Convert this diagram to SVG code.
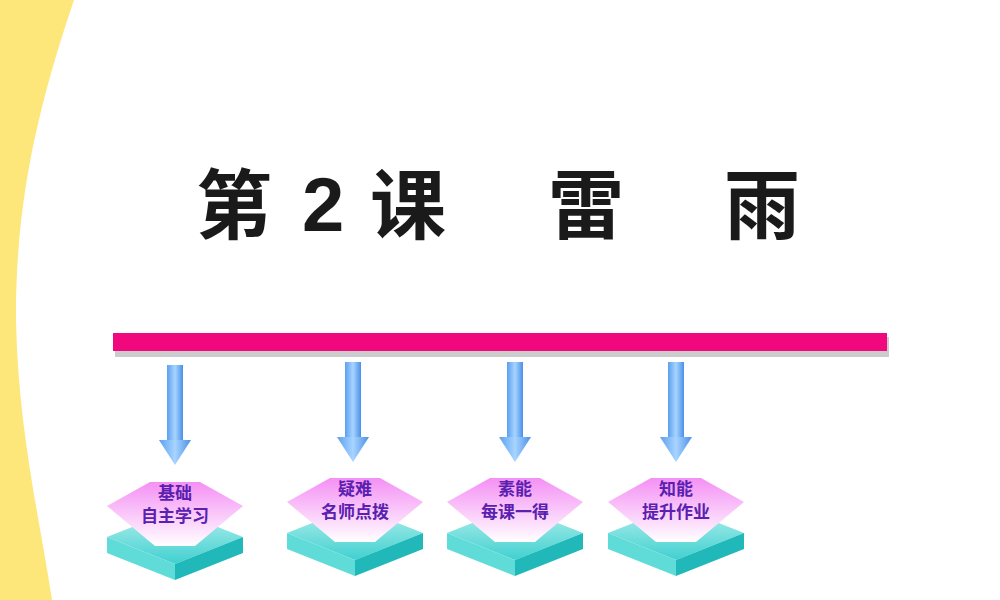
<svg xmlns="http://www.w3.org/2000/svg" width="1000" height="600" viewBox="0 0 1000 600">
<defs>
<linearGradient id="arr" x1="0" y1="0" x2="1" y2="0"><stop offset="0" stop-color="#5aa0f0"/><stop offset="0.5" stop-color="#a8d4ff"/><stop offset="1" stop-color="#4a90e8"/></linearGradient>
<linearGradient id="pk" x1="0" y1="0" x2="0" y2="1"><stop offset="0" stop-color="#f490f4"/><stop offset="1" stop-color="#ffffff"/></linearGradient>
<linearGradient id="tl" x1="0" y1="0" x2="0" y2="1"><stop offset="0" stop-color="#b8f0ee"/><stop offset="1" stop-color="#40d0d0"/></linearGradient>
<g id="node">
<polygon points="-68,37 0,10 68,37 0,64" fill="url(#tl)"/>
<polygon points="-68,37 0,64 0,80 -68,53" fill="#60dcd8"/>
<polygon points="68,37 0,64 0,80 68,53" fill="#20b8b8"/>
<polygon points="-68,6 -25,-18 25,-18 68,6 20,46 -20,46" fill="url(#pk)"/>
</g>
<g id="arrow">
<rect x="-8" y="0" width="16" height="75" fill="url(#arr)"/>
<polygon points="-16,75 16,75 0,100" fill="url(#arr)"/>
</g>
</defs>
<style>.t{font-family:"Noto Sans CJK SC",sans-serif;font-weight:bold;fill:#1a1a1a;font-size:76px}.n{font-family:"Noto Sans CJK SC",sans-serif;font-size:17px;fill:#5a20b0;text-anchor:middle;font-weight:bold}</style>
<rect width="1000" height="600" fill="#fff"/>
<path d="M0,0 L74,0 C40,100 15,200 16,320 C18,430 40,520 52,600 L0,600 Z" fill="#fde77a"/>
<g id="title">
<text class="t" x="196" y="233">第</text>
<text class="t" x="302" y="231" style="font-family:'Liberation Sans',sans-serif;font-weight:bold">2</text>
<text class="t" x="370" y="233">课</text>
<text class="t" x="548" y="233">雷</text>
<text class="t" x="724" y="233">雨</text>
</g>
<g id="bar">
<rect x="115" y="337" width="774" height="20" fill="#ccc"/>
<rect x="113" y="333" width="774" height="18" fill="#f0087c"/>
</g>
<g id="connectors">
<use href="#arrow" x="175" y="365"/>
<use href="#arrow" x="353" y="362"/>
<use href="#arrow" x="515" y="362"/>
<use href="#arrow" x="676" y="362"/>
</g>
<g id="n1"><use href="#node" x="175" y="500"/><text class="n" x="175" y="499">基础</text><text class="n" x="175" y="522">自主学习</text></g>
<g id="n2"><use href="#node" x="355" y="496"/><text class="n" x="355" y="495">疑难</text><text class="n" x="355" y="518">名师点拨</text></g>
<g id="n3"><use href="#node" x="515" y="496"/><text class="n" x="515" y="495">素能</text><text class="n" x="515" y="518">每课一得</text></g>
<g id="n4"><use href="#node" x="676" y="496"/><text class="n" x="676" y="495">知能</text><text class="n" x="676" y="518">提升作业</text></g>
</svg>
